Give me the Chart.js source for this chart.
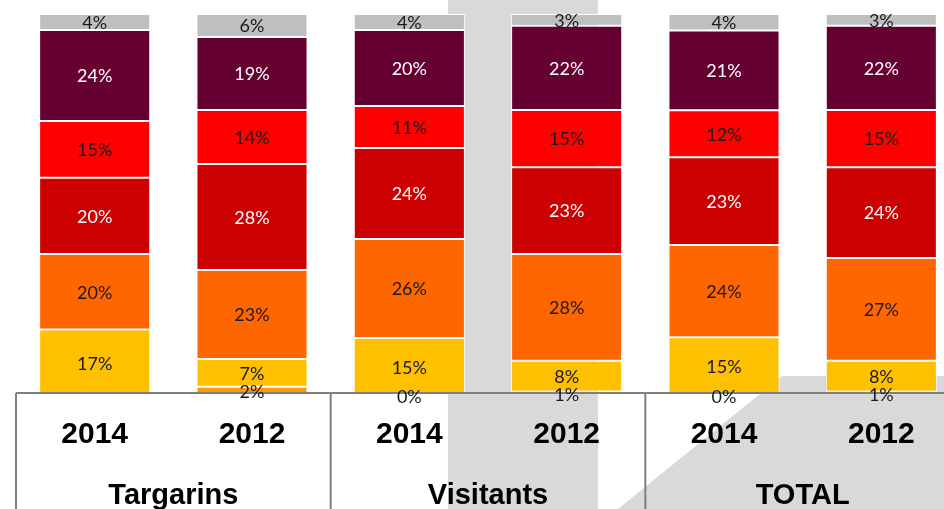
<!DOCTYPE html>
<html>
<head>
<meta charset="utf-8">
<script src="https://cdn.jsdelivr.net/npm/chart.js@4/dist/chart.umd.min.js"></script>
<style>
  html, body { margin:0; padding:0; overflow:hidden; background:#ffffff; width:944px; height:509px; }
  #wrap { position:absolute; left:0; top:0; width:961px; height:509px; }
</style>
</head>
<body>
<div id="wrap"><canvas id="c"></canvas></div>
<script>
// ---- data ----
const years  = ['2014', '2012', '2014', '2012', '2014', '2012'];
const groups = ['Targarins', 'Visitants', 'TOTAL'];
const seriesNames = ['A', 'B', 'C', 'D', 'E', 'F', 'G'];
const s0 = [null, 2.4, 0, 1.2, 0, 1.2];
const s1 = [17.4, 7.3, 15.2, 8.0, 15.4, 8.0];
const s2 = [19.8, 23.3, 25.9, 28.0, 24.1, 26.9];
const s3 = [19.9, 27.7, 23.8, 22.7, 23.0, 23.8];
const s4 = [14.9, 14.2, 11.0, 15.0, 12.3, 15.0];
const s5 = [23.8, 19.1, 19.9, 22.0, 20.9, 22.0];
const s6 = [4.2, 6.0, 4.2, 3.1, 4.3, 3.1];

const seriesData = [s0, s1, s2, s3, s4, s5, s6];
const fills  = ['#FF9900', '#FFC000', '#FF6600', '#CC0000', '#FF0000', '#660033', '#BFBFBF'];
const inks   = ['#1a1a1a', '#1a1a1a', '#1a1a1a', '#ffffff', '#1a1a1a', '#ffffff', '#1a1a1a'];

const datasets = seriesData.map((d, i) => ({
  label: seriesNames[i],
  data: d,
  backgroundColor: fills[i],
  borderColor: '#ffffff',
  borderWidth: 1,
  borderSkipped: false,
  barPercentage: 0.706,
  categoryPercentage: 1.0,
  clip: 0,
  labelColor: inks[i]
}));

// background watermark
const watermark = {
  id: 'watermark',
  beforeDraw(chart) {
    const ctx = chart.ctx;
    ctx.save();
    ctx.fillStyle = '#D9D9D9';
    ctx.fillRect(448, 0, 150, 509);
    ctx.beginPath();
    ctx.moveTo(782, 376);
    ctx.lineTo(961, 376);
    ctx.lineTo(961, 509);
    ctx.lineTo(618, 509);
    ctx.closePath();
    ctx.fill();
    ctx.restore();
  }
};

// box lines + value labels
const overlay = {
  id: 'overlay',
  afterDatasetsDraw(chart) {
    const ctx = chart.ctx;
    const x = chart.scales.x;
    const area = chart.chartArea;
    ctx.save();
    ctx.strokeStyle = '#7F7F7F';
    ctx.lineWidth = 2;
    const yLine = area.bottom - 1;
    ctx.beginPath();
    ctx.moveTo(area.left, yLine);
    ctx.lineTo(chart.width, yLine);
    const b1 = area.left;
    const b2 = (x.getPixelForValue(1) + x.getPixelForValue(2)) / 2;
    const b3 = (x.getPixelForValue(3) + x.getPixelForValue(4)) / 2;
    [b1, b2, b3].forEach(bx => {
      ctx.moveTo(bx, yLine);
      ctx.lineTo(bx, chart.height);
    });
    ctx.stroke();
    ctx.font = '18px Lato, "Open Sans", sans-serif';
    ctx.textAlign = 'center';
    ctx.textBaseline = 'middle';
    chart.data.datasets.forEach((ds, di) => {
      const meta = chart.getDatasetMeta(di);
      meta.data.forEach((el, i) => {
        const v = ds.data[i];
        if (v === null || v === undefined) return;
        const p = el.getProps(['x', 'y', 'base'], true);
        ctx.fillStyle = ds.labelColor;
        ctx.fillText(Math.round(v) + '%', p.x, (p.y + p.base) / 2 + 1);
      });
    });
    ctx.restore();
  }
};

new Chart(document.getElementById('c'), {
  type: 'bar',
  data: { labels: years, datasets },
  options: {
    responsive: true,
    maintainAspectRatio: false,
    devicePixelRatio: 1,
    animation: false,
    layout: { padding: { left: 16, right: 1, top: 14, bottom: 0 } },
    plugins: { legend: { display: false }, tooltip: { enabled: false } },
    scales: {
      y: { display: false, stacked: true, min: 0.52, max: 100 },
      x: {
        stacked: true,
        position: 'bottom',
        weight: 0,
        grid: { display: false },
        border: { display: false },
        ticks: {
          autoSkip: false, maxRotation: 0, padding: 15, color: '#000000',
          font: { family: '"Liberation Sans", Arial, sans-serif', size: 30, weight: 'bold' }
        },
        afterFit(s) { s.height = 60; }
      },
      x2: {
        type: 'category',
        labels: groups,
        position: 'bottom',
        weight: 1,
        offset: true,
        grid: { display: false },
        border: { display: false },
        ticks: {
          autoSkip: false, maxRotation: 0, padding: 17, color: '#000000',
          font: { family: '"Liberation Sans", Arial, sans-serif', size: 29, weight: 'bold' }
        },
        afterFit(s) { s.height = 55; }
      }
    }
  },
  plugins: [watermark, overlay]
});
</script>
</body>
</html>
